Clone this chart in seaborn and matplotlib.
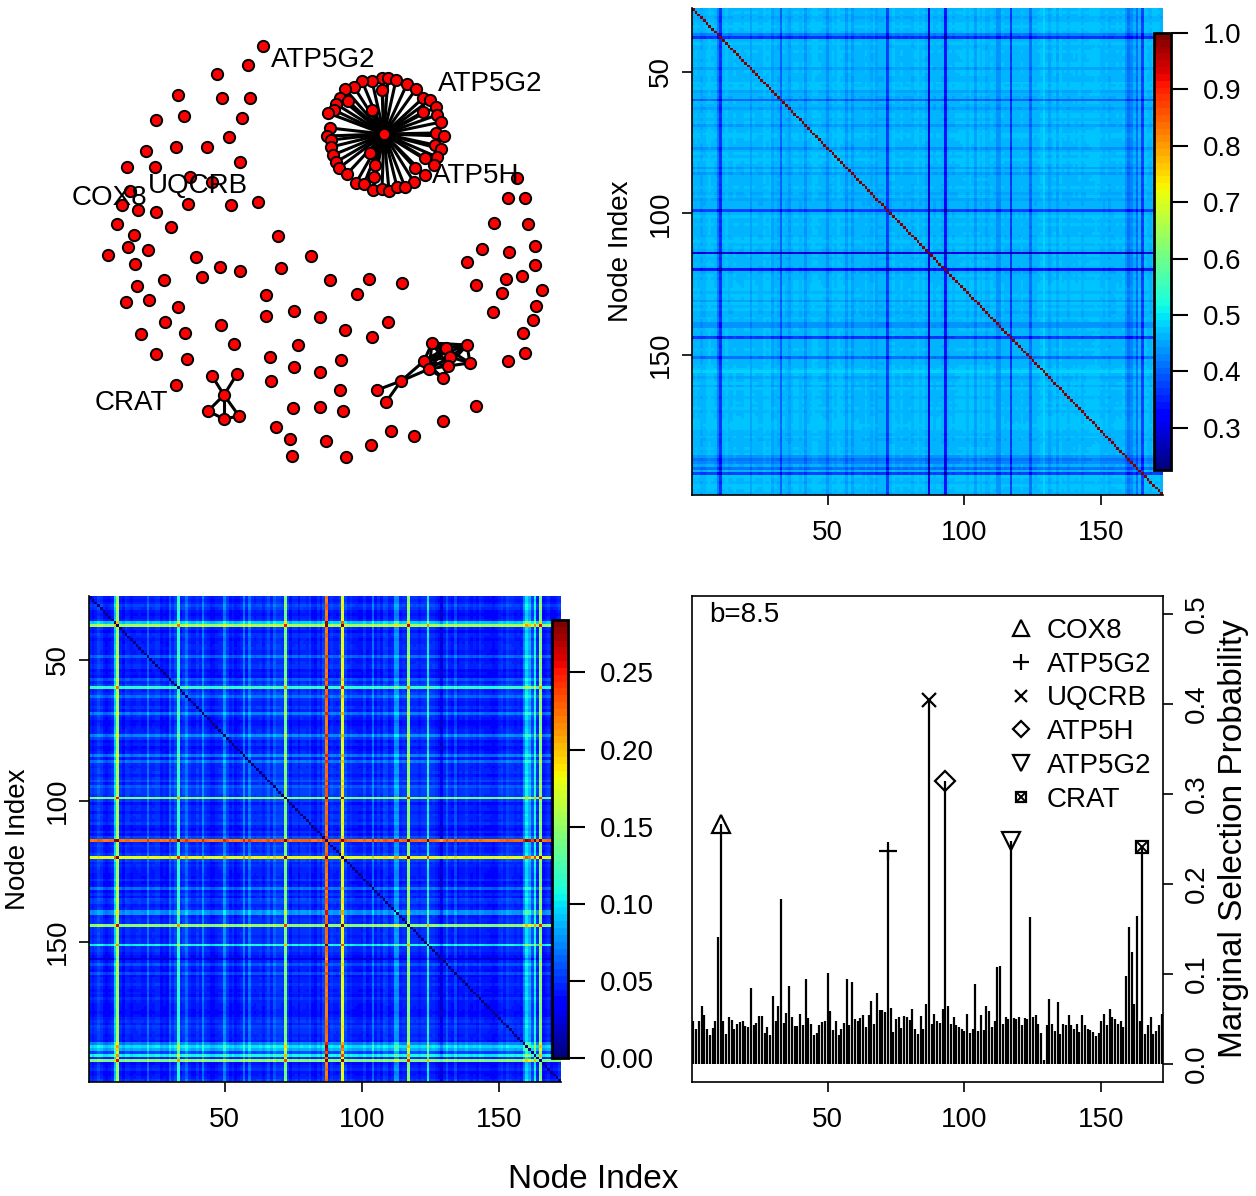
import numpy as np
import matplotlib
matplotlib.use("Agg")
import matplotlib.pyplot as plt
import seaborn as sns
from matplotlib.collections import LineCollection
from matplotlib.lines import Line2D
from matplotlib.legend_handler import HandlerTuple

# ---------------------------------------------------------------- data
# marginal selection probability of each of the 172 nodes
marg_prob = [
    0.048, 0.039, 0.048, 0.065, 0.054, 0.039, 0.032, 0.040, 0.048, 0.141,
    0.267, 0.048, 0.033, 0.052, 0.049, 0.039, 0.045, 0.047, 0.048, 0.042,
    0.041, 0.084, 0.043, 0.046, 0.053, 0.053, 0.034, 0.041, 0.032, 0.076,
    0.048, 0.064, 0.183, 0.046, 0.057, 0.087, 0.052, 0.042, 0.042, 0.056,
    0.043, 0.094, 0.051, 0.045, 0.032, 0.034, 0.043, 0.047, 0.048, 0.101,
    0.059, 0.038, 0.048, 0.032, 0.039, 0.046, 0.094, 0.043, 0.091, 0.050,
    0.048, 0.051, 0.054, 0.041, 0.054, 0.070, 0.045, 0.079, 0.060, 0.060,
    0.058, 0.237, 0.062, 0.036, 0.050, 0.052, 0.040, 0.053, 0.052, 0.049,
    0.061, 0.039, 0.033, 0.053, 0.039, 0.067, 0.404, 0.045, 0.056, 0.048,
    0.046, 0.061, 0.315, 0.064, 0.045, 0.052, 0.043, 0.041, 0.039, 0.037,
    0.056, 0.035, 0.039, 0.089, 0.037, 0.054, 0.038, 0.064, 0.059, 0.041,
    0.048, 0.108, 0.109, 0.044, 0.052, 0.050, 0.248, 0.051, 0.050, 0.052,
    0.043, 0.051, 0.050, 0.163, 0.052, 0.054, 0.045, 0.035, 0.005, 0.043,
    0.072, 0.044, 0.037, 0.069, 0.033, 0.044, 0.043, 0.054, 0.043, 0.039,
    0.044, 0.036, 0.054, 0.043, 0.039, 0.038, 0.036, 0.031, 0.035, 0.048,
    0.056, 0.043, 0.061, 0.052, 0.050, 0.044, 0.048, 0.041, 0.098, 0.152,
    0.124, 0.067, 0.165, 0.048, 0.241, 0.033, 0.043, 0.052, 0.033, 0.037,
    0.043, 0.056,
]

# highlighted genes (1-based node index)
gene_index = [11, 72, 87, 93, 117, 165]
gene_names = ["COX8", "ATP5G2", "UQCRB", "ATP5H", "ATP5G2", "CRAT"]
node_ticks = [50, 100, 150]

# network layout (screen units, y downwards)
node_x = [
    # scattered nodes
    263, 248, 217, 178, 222, 250, 184, 156, 242, 229, 176, 207, 146, 127, 155,
    240, 190, 212, 130, 122, 138, 156, 188, 231, 258, 117, 171, 134, 278, 128,
    148, 108, 196, 311, 135, 220, 240, 281, 202, 164, 137, 266, 126, 149, 178,
    266, 294, 320, 165, 221, 141, 185, 234, 298, 156, 187, 270, 294, 320, 176,
    271, 293, 320, 276, 290, 292,
    # CRAT module
    224, 212, 237, 208, 224, 239,
    # scattered nodes (right)
    494, 528, 482, 509, 535, 467, 535, 330, 369, 402, 357, 476, 506, 522, 502,
    542, 536, 493, 388, 345, 372, 533, 523, 341, 508, 525, 340, 343, 476, 443,
    391, 414, 326, 371, 346,
    # dense module
    432, 446, 467, 450, 424, 448, 470, 429, 443, 401, 377, 386,
    # hub and its neighbours
    384,
    382, 388, 396, 372, 362, 354, 345, 382, 407, 416, 340, 348, 423, 430, 336,
    436, 334, 328, 372, 423, 437, 441, 330, 327, 436, 444, 331, 331, 435, 441,
    333, 370, 437, 425, 336, 434, 339, 375, 415, 425, 347, 374, 414, 356, 364,
    373, 382, 389, 397, 405,
    # remaining nodes
    517, 508, 525,
]
node_y = [
    46, 65, 74, 95, 98, 98, 116, 120, 118, 137, 147, 147, 151, 167, 167,
    162, 177, 182, 191, 205, 210, 212, 204, 205, 202, 224, 227, 235, 236, 247,
    250, 255, 257, 256, 264, 267, 271, 268, 277, 280, 286, 295, 302, 300, 307,
    316, 311, 317, 322, 325, 334, 333, 344, 345, 354, 359, 357, 367, 372, 385,
    381, 408, 407, 427, 439, 456,
    395, 376, 374, 411, 419, 416,
    223, 224, 249, 252, 246, 262, 265, 280, 279, 283, 294, 285, 279, 276, 293,
    290, 306, 312, 322, 330, 337, 320, 333, 360, 361, 353, 390, 411, 406, 421,
    431, 436, 441, 445, 457,
    343, 348, 345, 357, 361, 366, 363, 369, 378, 381, 390, 402,
    134,
    78, 78, 80, 81, 81, 87, 89, 90, 84, 89, 98, 101, 98, 100, 104,
    107, 110, 113, 110, 112, 115, 122, 128, 136, 133, 136, 140, 147, 145, 149,
    155, 153, 157, 158, 162, 165, 168, 165, 168, 175, 174, 177, 182, 183, 184,
    190, 189, 191, 187, 187,
    178, 198, 198,
]

crat_edges = [(66, 67), (66, 68), (66, 69), (66, 70), (66, 71), (69, 70), (70, 71)]
module_edges = [
    (107, 108), (107, 109), (107, 110), (107, 111), (107, 112), (107, 114),
    (108, 109), (108, 110), (108, 111), (108, 112), (108, 113), (108, 114),
    (109, 110), (109, 112), (109, 113), (109, 111), (110, 111), (110, 112),
    (110, 113), (110, 114), (111, 112), (111, 114), (111, 115), (112, 113),
    (112, 115), (114, 115), (112, 114), (116, 111), (116, 114), (117, 116),
    (118, 116),
]
hub_node = 119
hub_leaves = list(range(120, 170))

# ---------------------------------------------------------------- style
sns.set_theme(style="ticks")
plt.rcParams["font.family"] = ["Liberation Sans", "DejaVu Sans"]
plt.rcParams.update({
    "text.color": "black", "axes.labelcolor": "black",
    "xtick.color": "black", "ytick.color": "black",
    "axes.edgecolor": "black",
})
jet = plt.get_cmap("jet", 64)

p = np.array(marg_prob)
n = len(p)
pair_sum = p[:, None] + p[None, :]

# pairwise selection frequency and node similarity matrices
pair_sel = pair_sum / 2.0
np.fill_diagonal(pair_sel, 0.0)
similarity = 0.508 - 0.47 * pair_sum
np.fill_diagonal(similarity, 1.0)

W, H = 1256, 1196
fig = plt.figure(figsize=(W / 100, H / 100), dpi=100)


def px_axes(x0, y0, x1, y1):
    return fig.add_axes([x0 / W, 1 - y1 / H, (x1 - x0) / W, (y1 - y0) / H])


ax_net = px_axes(0, 0, 628, 598)
ax_tr = px_axes(692, 8, 1163, 495)
cax_tr = px_axes(1154, 33, 1171, 470)
ax_bl = px_axes(89, 596, 561, 1082)
cax_bl = px_axes(552, 620, 568, 1058)
ax_br = px_axes(692, 596, 1163, 1082)

# ---------------------------------------------------------------- network
segs = [[(node_x[a], node_y[a]), (node_x[b], node_y[b])]
        for a, b in crat_edges + module_edges]
segs += [[(node_x[hub_node], node_y[hub_node]), (node_x[l], node_y[l])]
         for l in hub_leaves]
ax_net.add_collection(LineCollection(segs, colors="black", linewidths=2.2, zorder=1))
sns.scatterplot(x=node_x, y=node_y, ax=ax_net, color="#ff0000", edgecolor="black",
                linewidth=1.4, s=66, zorder=2, legend=False)
net_labels = [("ATP5G2", 323, 60), ("ATP5G2", 490, 84), ("ATP5H", 476, 176),
              ("COX8", 109, 198), ("UQCRB", 198, 186), ("CRAT", 131, 403)]
for txt, tx, ty in net_labels:
    ax_net.text(tx, ty, txt, fontsize=20, ha="center", va="center", zorder=3)
ax_net.set_xlim(0, 628)
ax_net.set_ylim(598, 0)
ax_net.axis("off")


# ---------------------------------------------------------------- heatmaps
def draw_heat(ax, cax, mat, vmin, vmax, cticks, cfmt):
    sns.heatmap(mat, ax=ax, cbar_ax=cax, cmap=jet, vmin=vmin, vmax=vmax,
                xticklabels=False, yticklabels=False)
    ax.set_xticks([t - 0.5 for t in node_ticks])
    ax.set_xticklabels([str(t) for t in node_ticks], fontsize=20)
    ax.set_yticks([n + 0.5 - t for t in node_ticks[::-1]])
    ax.set_yticklabels([str(t) for t in node_ticks], fontsize=20,
                       rotation=90, va="center")
    ax.tick_params(axis="both", length=7, width=1.2, direction="out",
                   bottom=True, left=True)
    ax.tick_params(axis="x", pad=11)
    ax.tick_params(axis="y", pad=6)
    ax.set_ylabel("Node Index", fontsize=20, labelpad=10)
    for side in ("left", "bottom"):
        ax.spines[side].set_visible(True)
        ax.spines[side].set_linewidth(1.2)
    cb = ax.collections[0].colorbar
    cb.outline.set_linewidth(2)
    cb.outline.set_edgecolor("black")
    cb.set_ticks(cticks)
    cb.set_ticklabels([cfmt.format(t) for t in cticks])
    cax.tick_params(length=12, width=1.5, labelsize=20, pad=11, right=True,
                    direction="out")


draw_heat(ax_tr, cax_tr, similarity, 0.225, 1.0,
          [0.3, 0.4, 0.5, 0.6, 0.7, 0.8, 0.9, 1.0], "{:.1f}")
draw_heat(ax_bl, cax_bl, pair_sel, 0.0, 0.284,
          [0.0, 0.05, 0.10, 0.15, 0.20, 0.25], "{:.2f}")

# ---------------------------------------------------------------- selection probabilities
idx = np.arange(1, n + 1)
ax_br.vlines(idx, 0, p, color="black", linewidth=1.6)

marker_specs = [
    dict(marker="^", mfc="none"),
    dict(marker="+"),
    dict(marker="x", ms=10),
    dict(marker="D", mfc="none", ms=10),
    dict(marker="v", mfc="none"),
    dict(marker="s", mfc="none", ms=9),
]
handles = []
for gi, spec in zip(gene_index, marker_specs):
    kw = dict(ms=13, mew=1.6, mec="black", color="black", ls="none")
    kw.update(spec)
    ax_br.plot([gi], [p[gi - 1]], **kw)
    hk = dict(kw)
    hk["ms"] = kw["ms"] * 0.85
    h = Line2D([], [], **hk)
    if spec["marker"] == "s":
        ax_br.plot([gi], [p[gi - 1]], marker="x", ms=7, mew=1.4, color="black", ls="none")
        h = (h, Line2D([], [], marker="x", ms=6, mew=1.4, color="black", ls="none"))
    handles.append(h)

ax_br.legend(handles, gene_names, loc="upper left", bbox_to_anchor=(0.67, 0.955),
             frameon=False, fontsize=20, handlelength=1.0, handletextpad=0.42,
             labelspacing=0.28, borderaxespad=0, borderpad=0,
             handler_map={tuple: HandlerTuple(ndivide=1)})
ax_br.text(0.037, 0.96, "b=8.5", transform=ax_br.transAxes, fontsize=20,
           ha="left", va="center")

ax_br.set_xlim(0.5, n + 0.5)
ax_br.set_ylim(-0.02, 0.52)
ax_br.set_xticks(node_ticks)
ax_br.set_xticklabels([str(t) for t in node_ticks], fontsize=20)
ax_br.yaxis.tick_right()
ax_br.yaxis.set_label_position("right")
yt = [0.0, 0.1, 0.2, 0.3, 0.4, 0.5]
ax_br.set_yticks(yt)
ax_br.set_yticklabels(["{:.1f}".format(v) for v in yt], fontsize=20,
                      rotation=90, va="center")
ax_br.set_ylabel("Marginal Selection Probability", fontsize=24, labelpad=6)
ax_br.tick_params(axis="both", length=7, width=1.2, direction="out")
ax_br.tick_params(axis="x", pad=11)
ax_br.tick_params(axis="y", pad=8)
for s in ax_br.spines.values():
    s.set_visible(True)
    s.set_linewidth(1.2)

fig.text(593 / W, 1 - 1180 / H, "Node Index", fontsize=24, ha="center", va="center")

fig.savefig("out.png", dpi=100)
